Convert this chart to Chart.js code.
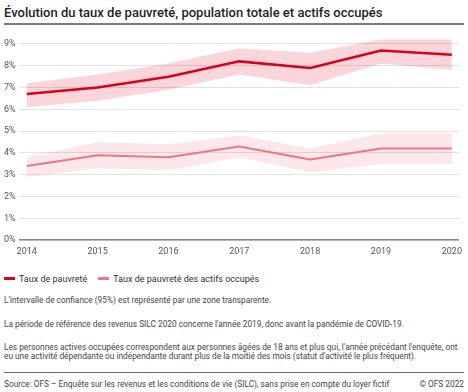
<!DOCTYPE html>
<html><head><meta charset="utf-8">
<script src="https://cdn.jsdelivr.net/npm/chart.js@4/dist/chart.umd.min.js"></script>
<style>
html,body{margin:0;padding:0;background:#fff;}
body{width:468px;height:392px;position:relative;overflow:hidden;font-family:Roboto,"Noto Sans",sans-serif;color:#333;}
#title{position:absolute;left:4px;top:5px;font-size:13px;font-weight:500;color:#1e1e1e;white-space:nowrap;}
#rule1{position:absolute;left:4px;top:23px;width:460px;height:2px;background:#7d7d7d;}
#wrap{position:absolute;left:0;top:28px;width:468px;height:235px;}
#legend{position:absolute;left:4px;top:273px;font-size:9px;color:#333;white-space:nowrap;line-height:12px;}
#legend span.item{display:inline-block;margin-right:11px;}
#legend span.sw{display:inline-block;width:11px;height:3px;vertical-align:middle;margin-right:4px;position:relative;top:-1px;}
.note{position:absolute;left:4px;font-size:8.3px;color:#444;white-space:nowrap;line-height:9px;}
#rule2{position:absolute;left:4px;top:372px;width:460px;height:1px;background:#666;}
#src{position:absolute;left:4px;top:379px;font-size:8.3px;color:#444;white-space:nowrap;}
#copy{position:absolute;right:4px;top:379px;font-size:8.3px;color:#444;white-space:nowrap;}
</style></head>
<body>
<div id="title">Évolution du taux de pauvreté, population totale et actifs occupés</div>
<div id="rule1"></div>
<div id="wrap"><canvas id="c" width="468" height="235"></canvas></div>
<div id="legend"></div>
<div class="note" style="top:296px">L'intervalle de confiance (95%) est représenté par une zone transparente.</div>
<div class="note" style="top:320px">La période de référence des revenus SILC 2020 concerne l'année 2019, donc avant la pandémie de COVID-19.</div>
<div class="note" style="top:343px">Les personnes actives occupées correspondent aux personnes âgées de 18 ans et plus qui, l'année précédant l'enquête, ont<br>eu une activité dépendante ou indépendante durant plus de la moitié des mois (statut d'activité le plus fréquent).</div>
<div id="rule2"></div>
<div id="src">Source: OFS – Enquête sur les revenus et les conditions de vie (SILC), sans prise en compte du loyer fictif</div>
<div id="copy">© OFS 2022</div>
<script>
const years = [2014, 2015, 2016, 2017, 2018, 2019, 2020];
const tauxPauvrete      = [6.7, 7.0, 7.5, 8.2, 7.9, 8.7, 8.5];
const tauxPauvreteBas   = [6.1, 6.4, 6.9, 7.6, 7.1, 8.1, 7.8];
const tauxPauvreteHaut  = [7.2, 7.6, 8.1, 8.8, 8.6, 9.2, 9.2];
const tauxActifs        = [3.4, 3.9, 3.8, 4.3, 3.7, 4.2, 4.2];
const tauxActifsBas     = [2.9, 3.3, 3.2, 3.8, 3.1, 3.5, 3.5];
const tauxActifsHaut    = [3.8, 4.5, 4.4, 4.8, 4.2, 4.9, 4.9];
const yTicks = [0, 1, 2, 3, 4, 5, 6, 7, 8, 9];
const seriesLabels = ['Taux de pauvreté', 'Taux de pauvreté des actifs occupés'];

const pts = arr => years.map((yr, i) => ({x: yr, y: arr[i]}));
const RED = '#d9001b', PINK = '#ee7683';

const band = (arr, color, fill) => ({
  label: '', data: pts(arr), borderWidth: 0, pointRadius: 0, backgroundColor: color,
  fill: fill, order: 2, tension: 0, clip: false, isBand: true
});

const chart = new Chart(document.getElementById('c'), {
  type: 'line',
  data: {
    datasets: [
      {label: seriesLabels[0], data: pts(tauxPauvrete), borderColor: RED, backgroundColor: RED, borderWidth: 2.5, pointRadius: 0, fill: false, order: 0, tension: 0},
      {label: seriesLabels[1], data: pts(tauxActifs), borderColor: PINK, backgroundColor: PINK, borderWidth: 2, pointRadius: 0, fill: false, order: 1, tension: 0},
      band(tauxPauvreteBas, 'rgba(0,0,0,0)', false),
      band(tauxPauvreteHaut, 'rgba(227,0,27,0.16)', '-1'),
      band(tauxActifsBas, 'rgba(0,0,0,0)', false),
      band(tauxActifsHaut, 'rgba(239,110,125,0.16)', '-1')
    ]
  },
  options: {
    responsive: false, animation: false, devicePixelRatio: 1,
    layout: {padding: {left: 0, right: 4, top: 0, bottom: 0}},
    plugins: {
      tooltip: {enabled: false},
      legend: {display: false}
    },
    scales: {
      x: {
        type: 'linear', min: 2013.9, max: 2020.1,
        afterBuildTicks: s => { s.ticks = years.map(v => ({value: v})); },
        grid: {display: false, drawTicks: false},
        border: {display: true, color: '#8a8a8a', width: 1.5},
        ticks: {color: '#555', font: {family: 'Roboto', size: 9}, padding: 6, maxRotation: 0, autoSkip: false,
          callback: v => String(v)}
      },
      y: {
        min: 0, max: 9.3,
        afterBuildTicks: s => { s.ticks = yTicks.map(v => ({value: v})); },
        grid: {color: '#e2e2e2', lineWidth: 1, drawTicks: false},
        border: {display: false},
        ticks: {color: '#555', font: {family: 'Roboto', size: 9}, padding: 4, callback: v => v + '%'}
      }
    }
  }
});

// HTML legend built from the chart's own datasets
const lg = document.getElementById('legend');
chart.data.datasets.filter(d => !d.isBand).forEach(d => {
  const it = document.createElement('span'); it.className = 'item';
  const sw = document.createElement('span'); sw.className = 'sw';
  sw.style.background = d.borderColor; sw.style.height = (d.borderWidth >= 2.5 ? 3 : 2.5) + 'px';
  it.appendChild(sw); it.appendChild(document.createTextNode(d.label));
  lg.appendChild(it);
});
</script>
</body></html>
